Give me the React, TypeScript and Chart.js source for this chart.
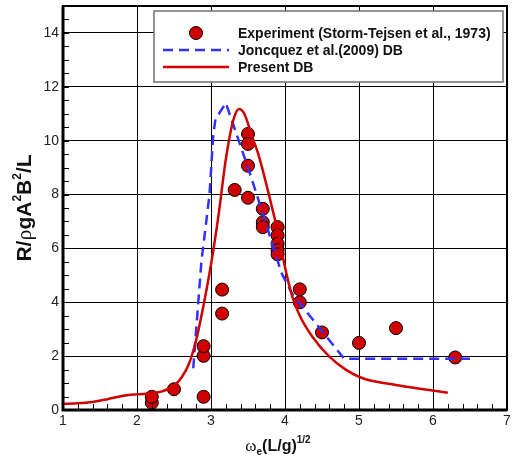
import React, { useEffect, useRef } from 'react';
import { Chart, registerables } from 'chart.js';

Chart.register(...registerables);

// Experiment (Storm-Tejsen et al., 1973)
const expX = [2.2, 2.2, 2.5, 2.9, 2.9, 2.9, 3.15, 3.15, 3.32, 3.5, 3.5, 3.5, 3.5, 3.7, 3.7, 3.7, 3.9, 3.9, 3.9, 3.9, 3.9, 4.2, 4.2, 4.5, 5.0, 5.5, 6.3];
const expY = [0.27, 0.49, 0.77, 0.49, 2.01, 2.37, 4.47, 3.58, 8.17, 10.25, 9.88, 9.07, 7.88, 7.47, 6.97, 6.79, 6.79, 6.48, 6.17, 5.93, 5.78, 4.48, 4.0, 2.88, 2.49, 3.04, 1.95];

// Joncquez et al.(2009) DB
const joncX = [2.76, 2.87, 2.98, 3.03, 3.06, 3.2, 3.3, 3.5, 3.7, 3.95, 4.1, 4.8, 6.5];
const joncY = [1.55, 5.5, 8.0, 10.2, 10.8, 11.4, 10.6, 9.0, 7.3, 5.1, 4.3, 1.9, 1.9];

// Present DB
const presX = [1.0, 1.2, 1.4, 1.6, 1.8, 2.0, 2.2, 2.35, 2.5, 2.6, 2.7, 2.8, 2.9, 3.0, 3.1, 3.2, 3.3, 3.38, 3.45, 3.55, 3.65, 3.8, 3.92, 4.0, 4.1, 4.2, 4.37, 4.6, 4.82, 5.05, 5.5, 5.8, 6.2];
const presY = [0.23, 0.25, 0.3, 0.4, 0.52, 0.58, 0.62, 0.7, 0.9, 1.2, 1.7, 2.6, 3.9, 5.4, 7.2, 9.3, 10.75, 11.18, 11.0, 10.2, 9.4, 7.8, 6.4, 5.3, 4.2, 3.5, 2.72, 1.98, 1.5, 1.18, 0.93, 0.8, 0.64];

const xTicks = [1, 2, 3, 4, 5, 6, 7];
const yTicks = [0, 2, 4, 6, 8, 10, 12, 14];
const legendLabels = ['Experiment (Storm-Tejsen et al., 1973)', 'Joncquez et al.(2009) DB', 'Present DB'];

const RED = '#d10000';
const BLUE = '#3030ff';
const SANS = '"Liberation Sans", Arial, sans-serif';
const SERIF = '"Liberation Serif", "Times New Roman", serif';

type Seg = { t: string; font: string; dy?: number };

function drawRich(ctx: CanvasRenderingContext2D, segs: Seg[], cx: number, y: number) {
  let total = 0;
  for (const s of segs) {
    ctx.font = s.font;
    total += ctx.measureText(s.t).width;
  }
  let x = cx - total / 2;
  ctx.textBaseline = 'alphabetic';
  ctx.textAlign = 'left';
  for (const s of segs) {
    ctx.font = s.font;
    ctx.fillText(s.t, x, y + (s.dy || 0));
    x += ctx.measureText(s.t).width;
  }
}

const decorPlugin = {
  id: 'decor',
  afterDraw(chart: any) {
    const ctx: CanvasRenderingContext2D = chart.ctx;
    const area = chart.chartArea;
    const xs = chart.scales.x;
    const ys = chart.scales.y;
    ctx.save();
    // minor ticks
    ctx.strokeStyle = '#000';
    ctx.lineWidth = 1;
    ctx.beginPath();
    for (let v = 1; v <= 7.0001; v += 0.2) {
      const px = Math.round(xs.getPixelForValue(v)) + 0.5;
      ctx.moveTo(px, area.bottom);
      ctx.lineTo(px, area.bottom - 6);
    }
    for (let v = 0; v <= 15.0001; v += 0.5) {
      const py = Math.round(ys.getPixelForValue(v)) + 0.5;
      ctx.moveTo(area.left, py);
      ctx.lineTo(area.left + 6, py);
    }
    ctx.stroke();
    // frame
    ctx.lineWidth = 2;
    ctx.strokeRect(area.left, area.top, area.right - area.left, area.bottom - area.top);
    ctx.lineWidth = 3;
    ctx.beginPath();
    ctx.moveTo(area.left, area.top);
    ctx.lineTo(area.left, area.bottom);
    ctx.lineTo(area.right, area.bottom);
    ctx.stroke();

    // legend
    const lx = 154, ly = 11, lw = 349, lh = 71;
    ctx.fillStyle = '#fff';
    ctx.fillRect(lx, ly, lw, lh);
    ctx.strokeStyle = '#707070';
    ctx.lineWidth = 1.5;
    ctx.strokeRect(lx, ly, lw, lh);
    const rows = [33, 50, 67];
    ctx.beginPath();
    ctx.arc(196, rows[0], 6.5, 0, Math.PI * 2);
    ctx.fillStyle = RED;
    ctx.fill();
    ctx.strokeStyle = '#000';
    ctx.lineWidth = 1;
    ctx.stroke();
    ctx.beginPath();
    ctx.setLineDash([10, 6]);
    ctx.strokeStyle = BLUE;
    ctx.lineWidth = 2.5;
    ctx.moveTo(163, rows[1]);
    ctx.lineTo(229, rows[1]);
    ctx.stroke();
    ctx.setLineDash([]);
    ctx.beginPath();
    ctx.strokeStyle = RED;
    ctx.lineWidth = 2.5;
    ctx.moveTo(163, rows[2]);
    ctx.lineTo(229, rows[2]);
    ctx.stroke();
    ctx.fillStyle = '#111';
    ctx.font = 'bold 14px ' + SANS;
    ctx.textBaseline = 'middle';
    ctx.textAlign = 'left';
    legendLabels.forEach((t, i) => ctx.fillText(t, 238, rows[i] + 1));

    // axis titles
    ctx.fillStyle = '#111';
    const B = (s: number) => `bold ${s}px ${SANS}`;
    const S = (s: number) => `${s}px ${SERIF}`;
    drawRich(ctx, [
      { t: 'ω', font: S(17) },
      { t: 'e', font: B(10), dy: 4 },
      { t: '(L/g)', font: B(16) },
      { t: '1/2', font: B(10), dy: -8 },
    ], 278, 451);
    ctx.save();
    ctx.translate(31, 208);
    ctx.rotate(-Math.PI / 2);
    drawRich(ctx, [
      { t: 'R/', font: B(21) },
      { t: 'ρ', font: S(22) },
      { t: 'gA', font: B(21) },
      { t: '2', font: B(12), dy: -10 },
      { t: 'B', font: B(21) },
      { t: '2', font: B(12), dy: -10 },
      { t: '/L', font: B(21) },
    ], 0, 0);
    ctx.restore();
    ctx.restore();
  },
};

export default function App() {
  const ref = useRef<HTMLCanvasElement>(null);
  useEffect(() => {
    if (!ref.current) return;
    const tickFont = { family: SANS, size: 14 };
    const chart = new Chart(ref.current, {
      type: 'scatter',
      data: {
        datasets: [
          {
            label: legendLabels[0],
            data: expX.map((x, i) => ({ x, y: expY[i] })),
            showLine: false,
            pointRadius: 6.5,
            pointBackgroundColor: RED,
            pointBorderColor: '#000',
            pointBorderWidth: 1,
            order: 3,
          },
          {
            label: legendLabels[1],
            data: joncX.map((x, i) => ({ x, y: joncY[i] })),
            showLine: true,
            borderColor: BLUE,
            borderWidth: 2.5,
            borderDash: [10, 6],
            pointRadius: 0,
            tension: 0,
            order: 2,
          },
          {
            label: legendLabels[2],
            data: presX.map((x, i) => ({ x, y: presY[i] })),
            showLine: true,
            borderColor: RED,
            borderWidth: 2.5,
            pointRadius: 0,
            cubicInterpolationMode: 'monotone',
            order: 1,
          },
        ],
      } as any,
      options: {
        responsive: false,
        animation: false,
        events: [],
        layout: { autoPadding: false, padding: { left: 0, top: 6, right: 5, bottom: 0 } },
        plugins: { legend: { display: false }, tooltip: { enabled: false } },
        scales: {
          x: {
            type: 'linear',
            min: 1,
            max: 7,
            afterBuildTicks: (s: any) => { s.ticks = xTicks.map((v) => ({ value: v })); },
            afterFit: (s: any) => { s.height = 49; s.paddingLeft = 0; s.paddingRight = 0; },
            grid: { color: '#000', lineWidth: 1, drawTicks: false },
            border: { display: false },
            ticks: { font: tickFont, color: '#222', padding: 3, maxRotation: 0, autoSkip: false },
          },
          y: {
            type: 'linear',
            min: 0,
            max: 15,
            afterBuildTicks: (s: any) => { s.ticks = yTicks.map((v) => ({ value: v })); },
            afterFit: (s: any) => { s.width = 63; s.paddingTop = 0; s.paddingBottom = 0; },
            grid: { color: '#000', lineWidth: 1, drawTicks: false },
            border: { display: false },
            ticks: { font: tickFont, color: '#222', padding: 4, autoSkip: false },
          },
        },
      } as any,
      plugins: [decorPlugin],
    });
    return () => chart.destroy();
  }, []);
  return (
    <div style={{ position: 'absolute', left: 0, top: 0, width: 512, height: 459, background: '#fff' }}>
      <canvas ref={ref} width={512} height={459} style={{ display: 'block' }} />
    </div>
  );
}
